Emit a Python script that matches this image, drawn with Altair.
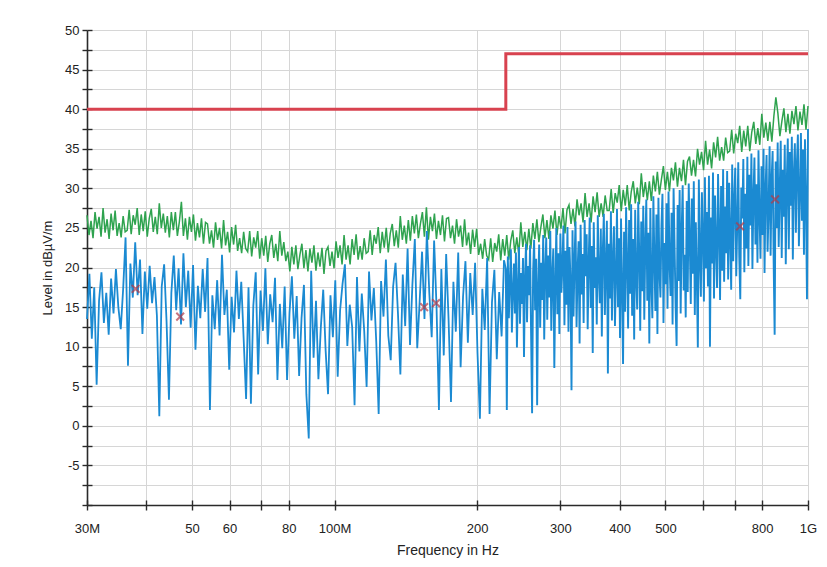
import altair as alt
import numpy as np
import pandas as pd

# ---------------- data ----------------
# Green trace (peak detector), 360 samples, 30 MHz .. 1 GHz (log-spaced sweep)
green_level = [
    26.6, 24.1, 25.9, 23.7, 27.0, 24.9, 26.4, 23.9, 27.5, 24.4, 26.1, 23.6, 26.8, 24.7, 27.2, 24.0, 25.6, 23.8, 26.5, 24.5,
    24.7, 27.3, 24.2, 26.6, 25.4, 27.5, 24.1, 26.7, 24.6, 27.1, 23.9, 26.2, 27.4, 24.5, 26.4, 24.2, 28.1, 25.0, 26.8, 24.4,
    26.5, 23.8, 27.0, 24.7, 27.0, 24.0, 25.8, 28.3, 24.0, 26.2, 23.5, 26.4, 24.5, 26.7, 23.4, 25.6, 23.8, 26.2, 23.0, 25.7,
    25.5, 23.0, 24.7, 22.5, 25.7, 23.5, 25.0, 22.4, 26.0, 22.8, 24.5, 21.9, 25.1, 22.9, 25.4, 22.1, 23.7, 21.8, 24.5, 22.4,
    22.0, 24.6, 21.4, 23.8, 22.5, 24.6, 21.1, 23.7, 21.5, 24.0, 20.7, 23.0, 24.1, 21.2, 23.0, 20.8, 24.6, 21.5, 23.2, 20.8,
    22.0, 19.5, 22.6, 20.4, 22.8, 19.8, 21.6, 23.0, 19.9, 22.2, 19.5, 22.4, 20.6, 22.8, 19.6, 21.9, 20.1, 22.5, 19.2, 22.1,
    22.6, 20.2, 22.0, 19.9, 23.3, 21.2, 22.8, 20.4, 24.1, 21.0, 22.8, 20.4, 23.6, 21.6, 24.2, 21.0, 22.7, 21.0, 23.7, 21.8,
    22.0, 24.7, 21.6, 24.1, 23.0, 25.1, 21.8, 24.5, 22.5, 25.0, 21.9, 24.3, 25.5, 22.7, 24.7, 22.5, 26.5, 23.5, 25.3, 23.0,
    26.0, 23.4, 26.5, 24.3, 26.7, 23.7, 25.5, 27.0, 23.9, 27.6, 23.5, 26.4, 24.6, 26.8, 23.6, 25.9, 24.1, 26.6, 23.3, 26.2,
    26.3, 23.7, 25.3, 23.0, 26.1, 23.9, 25.3, 22.6, 26.1, 22.8, 24.4, 21.7, 24.8, 22.6, 24.9, 21.6, 23.0, 21.1, 23.6, 21.5,
    21.0, 23.7, 20.7, 23.1, 22.0, 24.2, 20.9, 23.6, 21.5, 24.1, 21.0, 23.4, 24.7, 21.8, 23.8, 21.7, 25.7, 22.6, 24.5, 22.2,
    24.9, 22.4, 25.6, 23.6, 26.1, 23.2, 25.1, 26.7, 23.7, 26.0, 23.6, 26.6, 24.9, 27.2, 24.1, 26.5, 24.9, 27.5, 24.3, 27.3,
    27.9, 25.5, 27.4, 25.2, 28.6, 26.6, 28.1, 25.7, 29.4, 26.4, 28.1, 25.7, 29.0, 27.0, 29.5, 26.4, 28.1, 26.4, 29.1, 27.2,
    27.2, 29.9, 26.9, 29.4, 28.2, 30.4, 27.1, 29.8, 27.8, 30.4, 27.2, 29.6, 30.9, 28.1, 30.1, 28.0, 31.9, 28.9, 30.8, 28.5,
    30.9, 28.4, 31.6, 29.6, 32.1, 29.2, 31.1, 32.8, 29.8, 32.1, 29.6, 32.6, 31.0, 33.3, 30.2, 32.6, 30.9, 33.6, 30.4, 33.4,
    34.0, 31.6, 33.6, 31.5, 35.0, 33.0, 34.6, 32.3, 36.0, 33.0, 34.9, 32.5, 35.8, 33.9, 36.5, 33.5, 35.2, 33.5, 36.4, 34.5,
    34.7, 37.4, 34.4, 36.9, 35.7, 37.9, 34.6, 37.3, 35.3, 37.9, 34.7, 37.1, 38.4, 35.6, 37.6, 35.5, 39.4, 36.4, 38.3, 36.0,
    38.4, 35.9, 39.1, 41.5, 39.5, 36.6, 38.5, 40.1, 37.1, 39.4, 36.9, 39.8, 38.1, 40.4, 37.3, 39.7, 38.0, 40.6, 37.4, 40.4,
]

# Blue trace (average detector), lower part of the sweep: 30 MHz .. 228 MHz
blue_level_low = [
    13.5, 19.2, 11.0, 17.5, 5.2, 15.8, 19.4, 13.0, 16.8, 11.5, 18.6, 14.2, 19.8, 15.0, 12.2, 17.3, 23.8, 7.6, 20.5, 16.2,
    23.2, 16.5, 21.0, 11.6, 19.5, 14.8, 20.2, 15.5, 18.8, 13.9, 1.2, 17.6, 20.4, 13.2, 3.3, 16.8, 21.5, 14.6, 19.9, 12.8,
    21.8, 15.0, 19.6, 12.4, 20.3, 9.6, 17.7, 13.6, 19.8, 14.4, 21.2, 2.0, 16.5, 12.2, 18.4, 11.4, 21.6, 14.0, 17.2, 7.1,
    16.3, 11.8, 19.6, 13.5, 18.2, 10.9, 3.4, 17.5, 2.8, 15.2, 19.4, 6.5, 17.1, 12.0, 19.9, 10.3, 16.6, 13.1, 18.7, 5.8,
    15.4, 9.8, 17.6, 5.8, 14.2, 18.9, 11.0, 16.4, 6.3, 13.6, 17.8, 4.0, -1.6, 19.6, 8.6, 15.8, 5.9, 12.4, 17.2, 9.5,
    4.0, 16.5, 11.2, 18.4, 6.2, 14.6, 17.9, 20.4, 10.1, 15.3, 12.5, 2.6, 18.8, 9.4, 16.7, 12.0, 4.9, 19.5, 13.3, 17.4,
    10.6, 1.5, 18.3, 13.8, 21.0, 11.4, 8.3, 17.6, 20.6, 14.2, 6.5, 19.1, 12.6, 22.4, 10.2, 17.9, 23.6, 9.8, 15.7, 22.0,
    13.5, 24.6, 16.8, 11.2, 23.4, 15.1, 2.0, 19.8, 8.9, 21.7, 13.4, 3.0, 18.2, 11.9, 21.9, 7.4, 16.3, 20.8, 10.5, 19.3,
    14.0, 20.6, 9.2, 0.9, 17.3, 12.1, 21.2, 1.5, 15.6, 19.7, 8.4, 16.9, 11.3, 20.9,
]

# Blue trace, upper part of the sweep (denser): 230 MHz .. 1 GHz
blue_level_high = [
    19.8, 2.0, 21.4, 13.6, 18.2, 22.3, 11.8, 16.9, 20.5, 14.2, 21.9, 9.9, 17.6, 22.6, 12.9, 19.3, 15.4, 21.2, 8.7, 18.8,
    23.0, 13.1, 20.2, 16.5, 22.8, 11.7, 1.6, 19.4, 23.5, 14.6, 21.1, 2.6, 17.8, 22.9, 12.4, 20.6, 15.9, 24.1, 10.9, 19.7,
    23.8, 13.4, 21.5, 16.2, 24.6, 12.0, 19.1, 22.4, 7.3, 18.0, 25.0, 14.1, 21.8, 11.6, 24.3, 16.8, 20.3, 25.3, 12.7, 22.1,
    15.3, 25.1, 11.9, 22.6, 18.4, 4.5, 24.7, 13.8, 20.9, 25.8, 12.5, 19.6, 23.3, 10.4, 25.4, 16.6, 21.7, 13.0, 26.0, 18.9,
    24.2, 12.2, 20.8, 26.3, 14.9, 22.7, 9.2, 25.7, 17.4, 21.3, 12.8, 26.6, 19.0, 15.5, 24.9, 11.3, 22.2, 26.8, 14.0, 20.1,
    25.9, 6.6, 23.0, 16.1, 27.1, 13.3, 21.0, 25.2, 12.6, 18.7, 27.4, 15.0, 23.7, 11.1, 26.2, 17.3, 7.8, 24.5, 14.4, 27.6,
    20.4, 12.3, 26.0, 16.7, 28.0, 13.9, 23.6, 10.9, 27.3, 18.6, 14.7, 28.3, 21.9, 12.0, 25.8, 17.0, 27.8, 13.4, 22.8, 28.6,
    15.8, 24.4, 10.4, 27.5, 18.1, 13.6, 29.0, 21.2, 14.5, 26.7, 11.6, 28.8, 19.5, 16.2, 25.3, 29.3, 13.0, 23.1, 17.9, 28.1,
    14.8, 29.6, 20.7, 16.4, 26.9, 12.8, 30.0, 22.5, 15.1, 10.1, 27.9, 18.3, 29.8, 14.2, 24.6, 30.4, 17.1, 21.6, 13.7, 28.4,
    16.9, 30.6, 23.4, 15.4, 28.7, 19.2, 30.9, 14.0, 25.7, 18.8, 9.9, 31.1, 21.4, 16.3, 29.5, 24.2, 15.7, 31.4, 19.9, 27.0,
    17.6, 31.6, 10.0, 26.3, 20.5, 32.0, 16.1, 29.1, 22.7, 17.4, 31.8, 24.9, 15.9, 30.3, 19.6, 32.4, 18.2, 27.7, 21.8, 32.2,
    18.5, 30.7, 23.9, 17.2, 33.0, 20.8, 28.4, 32.6, 18.9, 25.6, 33.3, 21.3, 16.0, 30.1, 26.2, 33.7, 19.4, 29.3, 22.4, 34.0,
    20.2, 31.7, 25.3, 34.4, 19.8, 28.8, 33.9, 22.9, 30.5, 20.6, 34.8, 26.7, 21.1, 32.8, 24.1, 35.0, 19.3, 29.9, 34.2, 22.0,
    27.3, 35.3, 21.5, 31.2, 34.7, 20.9, 11.5, 33.4, 25.0, 35.8, 22.6, 29.6, 36.0, 21.2, 32.3, 26.4, 35.5, 20.4, 30.8, 36.3,
    22.3, 34.6, 27.8, 36.5, 21.0, 31.9, 35.7, 24.4, 33.1, 36.8, 22.7, 29.2, 37.0, 25.9, 34.9, 21.6, 36.2, 28.5, 16.0, 37.5,
]

# Limit line (MHz, dBµV/m)
limit_freq_mhz = [30, 230, 230, 1000]
limit_level = [40, 40, 47, 47]

# Final measurement markers
marker_freq_mhz = [38.0, 47.2, 154.6, 163.8, 718.6, 852.0]
marker_level = [17.3, 13.8, 15.0, 15.5, 25.2, 28.6]

# Axis ticks
x_tick_values = [30, 40, 50, 60, 70, 80, 100, 200, 300, 400, 500, 600, 700, 800, 1000]
x_tick_labels = ["30M", "", "50", "60", "", "80", "100M", "200", "300", "400", "500", "", "", "800", "1G"]
y_tick_values = [-10, -7.5, -5, -2.5, 0, 2.5, 5, 7.5, 10, 12.5, 15, 17.5, 20, 22.5,
                 25, 27.5, 30, 32.5, 35, 37.5, 40, 42.5, 45, 47.5, 50]
y_tick_labels = ["", "", "-5", "", "0", "", "5", "", "10", "", "15", "", "20", "",
                 "25", "", "30", "", "35", "", "40", "", "45", "", "50"]

# ---------------- tables ----------------
green_df = pd.DataFrame({"freq": np.geomspace(30, 1000, len(green_level)), "level": green_level})
blue_low_df = pd.DataFrame({"freq": np.geomspace(30, 228, len(blue_level_low)), "level": blue_level_low})
blue_high_df = pd.DataFrame({
    "freq": np.concatenate([[228.0], np.geomspace(230, 1000, len(blue_level_high))]),
    "level": [blue_level_low[-1]] + blue_level_high,
})
limit_df = pd.DataFrame({"freq": limit_freq_mhz, "level": limit_level, "idx": list(range(len(limit_level)))})
marker_df = pd.DataFrame({"freq": marker_freq_mhz, "level": marker_level})


def chain_expr(values, labels):
    expr = "''"
    for v, l in reversed(list(zip(values, labels))):
        expr = f"datum.value == {v} ? '{l}' : ({expr})"
    return expr


x_label_expr = chain_expr(x_tick_values, x_tick_labels)
y_label_expr = chain_expr(y_tick_values, y_tick_labels)

FONT = "Liberation Sans"
AX = "#2a2a2a"
GRID = "#d6d6d6"
GREEN = "#2fa34f"
BLUE = "#1b8ad2"

xscale = alt.Scale(type="log", domain=[30, 1000], nice=False)
yscale = alt.Scale(domain=[-10, 50], nice=False, zero=False)

x_axis_main = alt.Axis(
    values=x_tick_values, labelExpr=x_label_expr, title="Frequency in Hz",
    grid=True, gridColor=GRID, gridWidth=1,
    tickSize=5, tickWidth=1.4, tickColor=AX, domainColor=AX, domainWidth=1.6,
    labelPadding=12, labelFontSize=13, labelFont=FONT, labelColor="#222",
    labelOverlap=False, labelFlush=False,
    titleFont=FONT, titleFontSize=14, titleFontWeight="normal", titleColor="#222", titlePadding=8,
)
y_axis_main = alt.Axis(
    values=y_tick_values, labelExpr=y_label_expr, title="Level in dBµV/m",
    grid=True, gridColor=GRID, gridWidth=1,
    tickSize=5, tickWidth=1.4, tickColor=AX, domainColor=AX, domainWidth=1.6,
    labelPadding=3, labelFontSize=13, labelFont=FONT, labelColor="#222",
    labelOverlap=False, labelFlush=False,
    titleFont=FONT, titleFontSize=13, titleFontWeight="normal", titleColor="#222", titlePadding=10,
)
x_axis_inner = alt.Axis(values=x_tick_values, labels=False, domain=False, grid=False, title=None,
                        tickSize=5, tickWidth=1.4, tickColor=AX, offset=-5, orient="bottom")
y_axis_inner = alt.Axis(values=y_tick_values, labels=False, domain=False, grid=False, title=None,
                        tickSize=5, tickWidth=1.4, tickColor=AX, offset=-5, orient="left")

X_NOAX = alt.X("freq:Q", scale=xscale, axis=None)
Y_NOAX = alt.Y("level:Q", scale=yscale, axis=None)

green = alt.Chart(green_df).mark_line(color=GREEN, strokeWidth=1.5).encode(
    x=alt.X("freq:Q", scale=xscale, axis=x_axis_main),
    y=alt.Y("level:Q", scale=yscale, axis=y_axis_main),
)
blue_low = alt.Chart(blue_low_df).mark_line(color=BLUE, strokeWidth=1.8).encode(x=X_NOAX, y=Y_NOAX)
blue_high = alt.Chart(blue_high_df).mark_line(color=BLUE, strokeWidth=1.9).encode(x=X_NOAX, y=Y_NOAX)
limit = alt.Chart(limit_df).mark_line(color="#d8424f", strokeWidth=3).encode(
    x=X_NOAX, y=Y_NOAX, order="idx:Q",
)
markers = alt.Chart(marker_df).mark_point(
    shape="M-1,-1L1,1M-1,1L1,-1", size=60, filled=False, color="#b23a48", strokeWidth=2
).encode(x=X_NOAX, y=Y_NOAX)
inner_ticks = alt.Chart(marker_df).mark_point(opacity=0).encode(
    x=alt.X("freq:Q", scale=xscale, axis=x_axis_inner),
    y=alt.Y("level:Q", scale=yscale, axis=y_axis_inner),
)

chart = alt.layer(green, blue_low, blue_high, limit, markers, inner_ticks).resolve_axis(
    x="independent", y="independent"
).properties(
    width=721, height=475,
    autosize=alt.AutoSizeParams(type="none"),
    padding={"left": 79, "top": 22, "right": 10, "bottom": 55},
).configure_view(stroke=None).configure(background="white")

chart.save("out.html", embed_options={"renderer": "svg", "actions": False})
